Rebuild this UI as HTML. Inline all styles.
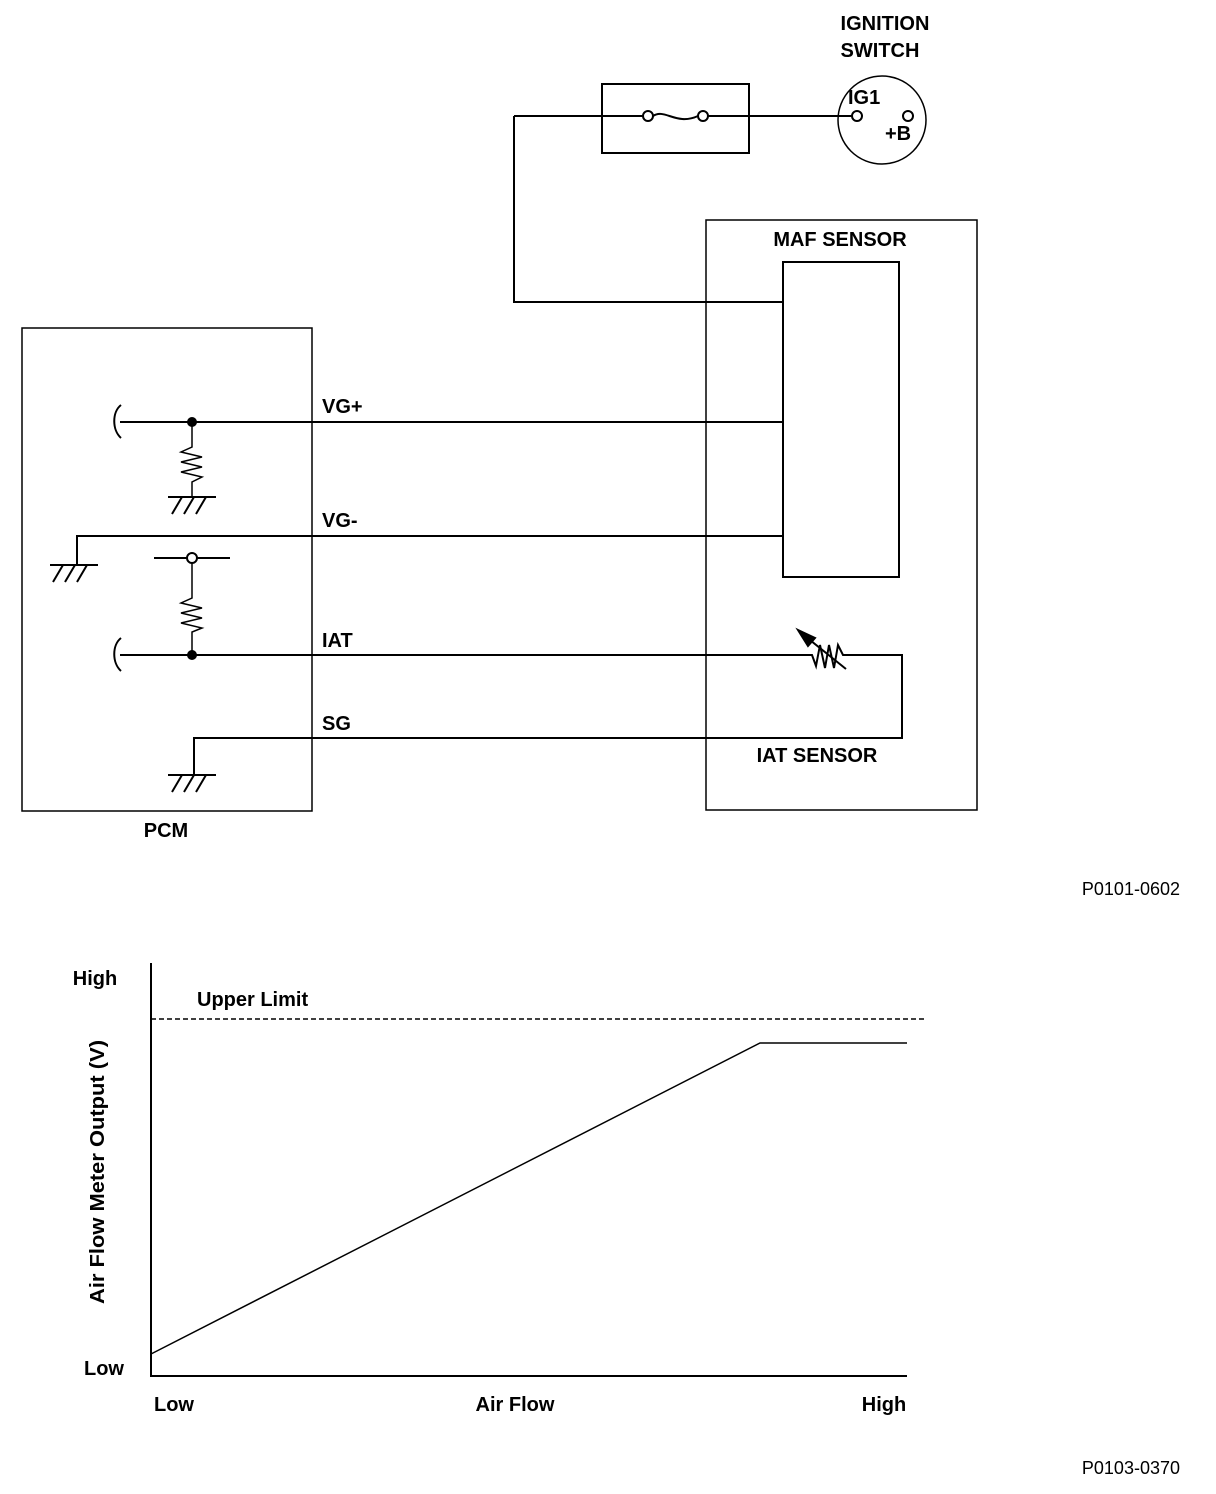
<!DOCTYPE html>
<html><head><style>body{margin:0;background:#fff}svg{display:block}text{font-family:"Liberation Sans",Arial,sans-serif;font-weight:bold;font-size:20px;fill:#000}</style></head>
<body>
<svg width="1216" height="1494" viewBox="0 0 1216 1494" xmlns="http://www.w3.org/2000/svg">
<g fill="none" stroke="#000" stroke-width="2">
<rect x="602" y="84" width="147" height="69"/>
<path d="M514 116 H643 M653 116 C665 108 676 126 698 116 M708 116 H852"/>
<circle cx="648" cy="116" r="5"/><circle cx="703" cy="116" r="5"/>
<circle cx="882" cy="120" r="44" stroke-width="1.5"/>
<circle cx="857" cy="116" r="5"/><circle cx="908" cy="116" r="5"/>
<path d="M514 116 V302 H783"/>
<rect x="706" y="220" width="271" height="590" stroke-width="1.5"/>
<rect x="783" y="262" width="116" height="315"/>
<rect x="22" y="328" width="290" height="483" stroke-width="1.5"/>
<path d="M120 422 H783"/>
<path d="M121 405 C112 412 112 430 121 438 M121 638 C112 645 112 663 121 671"/>
<path d="M192 422 V447 L181 452 L202 457 L181 462 L202 467 L181 472 L202 477 L192 482 V497" stroke-width="1.5"/>
<path d="M168 497 H216 M182 497 L172 514 M194 497 L184 514 M206 497 L196 514"/>
<path d="M77 565 V536 H783 M50 565 H98 M63 565 L53 582 M75 565 L65 582 M87 565 L77 582"/>
<path d="M154 558 H187 M197 558 H230"/>
<circle cx="192" cy="558" r="5"/>
<path d="M192 563 V598 L181 603 L202 608 L181 613 L202 618 L181 623 L202 628 L192 632 V655" stroke-width="1.5"/>
<path d="M120 655 H812 L816 666 L820 645 L825 668 L829 645 L834 668 L838 645 L843 655 H902 V738 H194 V775"/>
<path d="M800 632 L846 669"/>
<path d="M798 630 L815 638 L808 646 Z" fill="#000"/>
<path d="M168 775 H216 M182 775 L172 792 M194 775 L184 792 M206 775 L196 792"/>
<path d="M151 963 V1376 H907"/>
<path d="M151 1019 H926" stroke-dasharray="5,3" stroke-width="1.5"/>
<path d="M151 1354 L760 1043 H907" stroke-width="1.5"/>
</g>
<circle cx="192" cy="422" r="5"/><circle cx="192" cy="655" r="5"/>
<text x="885" y="30" text-anchor="middle">IGNITION</text>
<text x="880" y="57" text-anchor="middle">SWITCH</text>
<text x="848" y="104">IG1</text>
<text x="885" y="140">+B</text>
<text x="840" y="246" text-anchor="middle">MAF SENSOR</text>
<text x="322" y="413">VG+</text>
<text x="322" y="527">VG-</text>
<text x="322" y="647">IAT</text>
<text x="322" y="730">SG</text>
<text x="817" y="762" text-anchor="middle">IAT SENSOR</text>
<text x="166" y="837" text-anchor="middle">PCM</text>
<text x="1180" y="895" text-anchor="end" style="font-weight:normal;font-size:18px">P0101-0602</text>
<text x="95" y="985" text-anchor="middle">High</text>
<text x="104" y="1375" text-anchor="middle">Low</text>
<text x="197" y="1006">Upper Limit</text>
<text x="174" y="1411" text-anchor="middle">Low</text>
<text x="515" y="1411" text-anchor="middle">Air Flow</text>
<text x="884" y="1411" text-anchor="middle">High</text>
<text transform="translate(104,1172) rotate(-90)" text-anchor="middle" textLength="264" lengthAdjust="spacingAndGlyphs">Air Flow Meter Output (V)</text>
<text x="1180" y="1474" text-anchor="end" style="font-weight:normal;font-size:18px">P0103-0370</text>
</svg>
</body></html>
